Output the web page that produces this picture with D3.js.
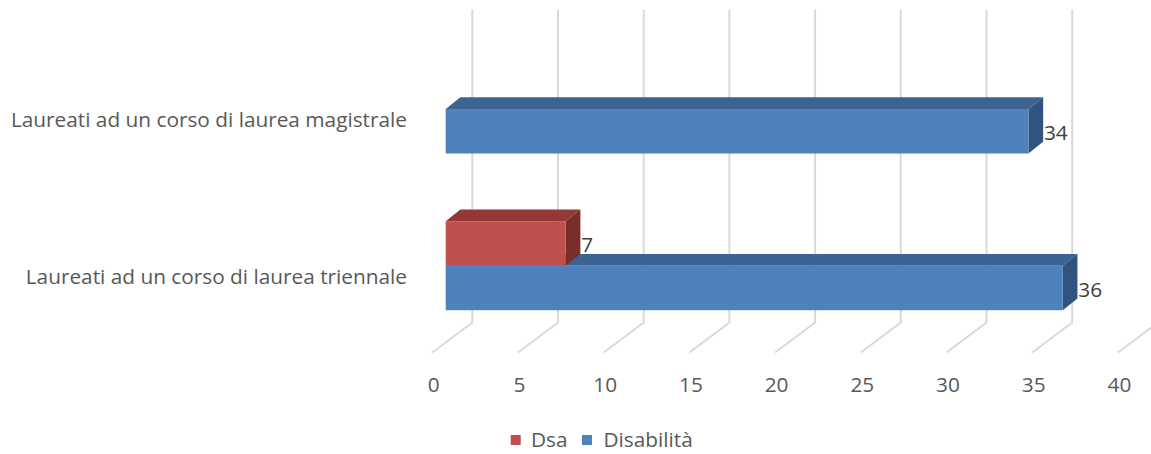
<!DOCTYPE html>
<html>
<head>
<meta charset="utf-8">
<script src="https://cdn.jsdelivr.net/npm/d3@7"></script>
<style>
  body { margin: 0; background: #ffffff; }
  text { font-family: "Open Sans", sans-serif; }
</style>
</head>
<body>
<svg id="chart" width="1151" height="454"></svg>
<script>
// ---- data ----
const categories = [
  "Laureati ad un corso di laurea magistrale",
  "Laureati ad un corso di laurea triennale"
];
const seriesNames = ["Dsa", "Disabilità"];
const dsaValues = [null, 7];
const disabilitaValues = [34, 36];
const xTicks = [0, 5, 10, 15, 20, 25, 30, 35, 40];

// ---- styles ----
const colors = {
  "Dsa":        { front: "#C0504D", top: "#953735", side: "#7A2D2B" },
  "Disabilità": { front: "#4F81BD", top: "#3B6492", side: "#30537F" }
};
const fontSize = 20.8;

const svg = d3.select("#chart");

// ---- scales ----
const x = d3.scaleLinear().domain([0, 40]).range([445.7, 1131.3]);   // bar front-face plane
const y0 = d3.scaleBand().domain(categories).range([30.65, 344.05])
  .paddingInner(0.432).paddingOuter(0.216);
const y1 = d3.scaleBand().domain(seriesNames).range([0, y0.bandwidth()]);

// 3D geometry
const barDx = 14.7, barDy = -11.7;          // bar depth
const wallOffset = 26.6;                     // back wall relative to bar front
const floorOffset = -13.4;                   // floor front edge relative to bar front
const wallBottom = 322.5, floorFront = 352.5, wallTop = 9.5;

// ---- gridlines ----
const grid = svg.append("g");
grid.selectAll("path").data(xTicks).join("path")
  .attr("d", v => {
    const bx = x(v) + wallOffset, fx = x(v) + floorOffset;
    return `M${bx},${wallTop}L${bx},${wallBottom}L${fx},${floorFront}`;
  })
  .attr("fill", "none")
  .attr("stroke", "#d9d9d9")
  .attr("stroke-width", 2);

// ---- tick labels ----
svg.append("g").selectAll("text").data(xTicks).join("text")
  .attr("x", v => x(v) + floorOffset + 1.5)
  .attr("y", 391.5)
  .attr("text-anchor", "middle")
  .attr("font-size", fontSize)
  .attr("fill", "#595959")
  .text(d => d);

// ---- category labels ----
svg.append("g").selectAll("text").data(categories).join("text")
  .attr("x", 407)
  .attr("y", c => y0(c) + y0.bandwidth() / 2 + 17.8)
  .attr("text-anchor", "end")
  .attr("font-size", fontSize)
  .attr("fill", "#595959")
  .text(d => d);

// ---- bars ----
const bars = [];
categories.forEach((c, i) => {
  // lower series first so upper bar overlaps its top face
  if (disabilitaValues[i] != null) bars.push({ cat: c, s: "Disabilità", v: disabilitaValues[i] });
  if (dsaValues[i] != null) bars.push({ cat: c, s: "Dsa", v: dsaValues[i] });
});

const barG = svg.append("g");
bars.forEach(b => {
  const x0 = x(0), x1 = x(b.v);
  const yt = y0(b.cat) + y1(b.s), h = y1.bandwidth();
  const col = colors[b.s];
  const g = barG.append("g");
  g.append("path")
    .attr("d", `M${x0},${yt}L${x1},${yt}L${x1 + barDx},${yt + barDy}L${x0 + barDx},${yt + barDy}Z`)
    .attr("fill", col.top);
  g.append("path")
    .attr("d", `M${x1},${yt}L${x1 + barDx},${yt + barDy}L${x1 + barDx},${yt + h + barDy}L${x1},${yt + h}Z`)
    .attr("fill", col.side);
  g.append("rect")
    .attr("x", x0).attr("y", yt)
    .attr("width", x1 - x0).attr("height", h)
    .attr("fill", col.front);
  g.append("text")
    .attr("x", x1 + barDx + 0.8)
    .attr("y", yt + h / 2 + 9)
    .attr("font-size", fontSize)
    .attr("fill", "#404040")
    .text(b.v);
});

// ---- legend ----
const legendItems = [
  { s: "Dsa", rx: 510.7, tx: 531 },
  { s: "Disabilità", rx: 582, tx: 603.5 }
];
const lg = svg.append("g");
legendItems.forEach(it => {
  lg.append("rect").attr("x", it.rx).attr("y", 435).attr("width", 10).attr("height", 10)
    .attr("fill", colors[it.s].front);
  lg.append("text").attr("x", it.tx).attr("y", 447.3)
    .attr("font-size", fontSize).attr("fill", "#595959").text(it.s);
});
</script>
</body>
</html>
